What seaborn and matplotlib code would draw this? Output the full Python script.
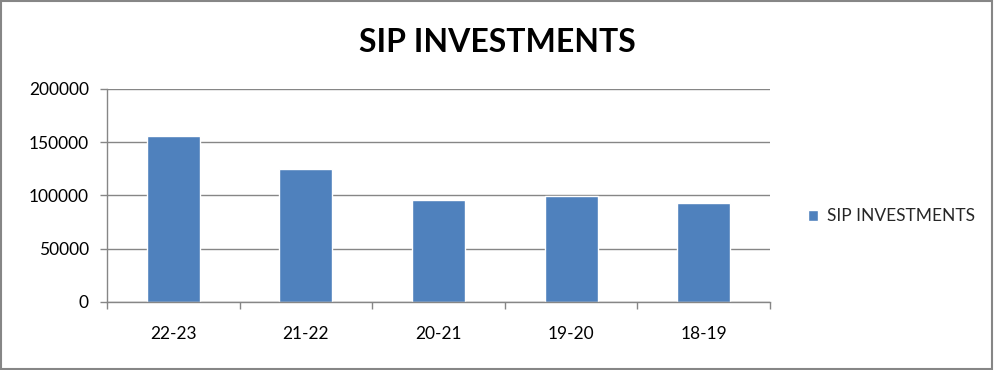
import matplotlib
matplotlib.use("Agg")
import matplotlib.pyplot as plt
import seaborn as sns
import pandas as pd
from matplotlib.patches import Rectangle

categories = ["22-23", "21-22", "20-21", "19-20", "18-19"]
values = [155400, 124500, 95500, 99800, 92700]
series_name = "SIP INVESTMENTS"
yticks = [0, 50000, 100000, 150000, 200000]

sns.set_theme(style="white")
plt.rcParams["font.family"] = ["Lato", "DejaVu Sans"]

df = pd.DataFrame({"period": categories, "value": values, "series": series_name})

fig = plt.figure(figsize=(9.94, 3.70), dpi=100)
ax = fig.add_axes([0.1076, 0.1838, 0.667, 0.5757])

sns.barplot(data=df, x="period", y="value", hue="series",
            palette={series_name: "#4F81BD"}, dodge=False, width=0.4,
            saturation=1, ax=ax, legend=True)

ax.set_ylim(0, 200000)
ax.set_xlim(-0.5, 4.5)
ax.set_yticks(yticks)
ax.set_yticklabels([str(v) for v in yticks])
ax.set_xlabel("")
ax.set_ylabel("")
ax.yaxis.grid(True, color="#868686", linewidth=1)
ax.set_axisbelow(True)
for s in ["top", "right"]:
    ax.spines[s].set_visible(False)
for s in ["left", "bottom"]:
    ax.spines[s].set_color("#868686")
    ax.spines[s].set_linewidth(1)

ax.tick_params(axis="y", which="major", left=True, length=5, width=1,
               color="#868686", labelsize=12.5, labelcolor="black", pad=8)
ax.tick_params(axis="x", which="major", bottom=False, length=0,
               labelsize=12.5, labelcolor="black", pad=17)
ax.set_xticks([i - 0.5 for i in range(len(categories) + 1)], minor=True)
ax.tick_params(axis="x", which="minor", bottom=True, length=5, width=1,
               color="#868686")

fig.text(0.5, 0.885, "SIP INVESTMENTS", ha="center", va="center",
         fontsize=23, fontweight="bold", color="black")

handles, labels = ax.get_legend_handles_labels()
ax.get_legend().remove()
fig.legend(handles, labels, loc="center left", bbox_to_anchor=(0.797, 0.415),
           frameon=False, fontsize=12.5, handlelength=0.6, handleheight=0.6,
           handletextpad=0.5)

fig.patches.append(Rectangle((0.001, 0.002), 0.997, 0.995, transform=fig.transFigure,
                             fill=False, edgecolor="#868686", linewidth=1.5))

fig.savefig("out.png", dpi=100)
